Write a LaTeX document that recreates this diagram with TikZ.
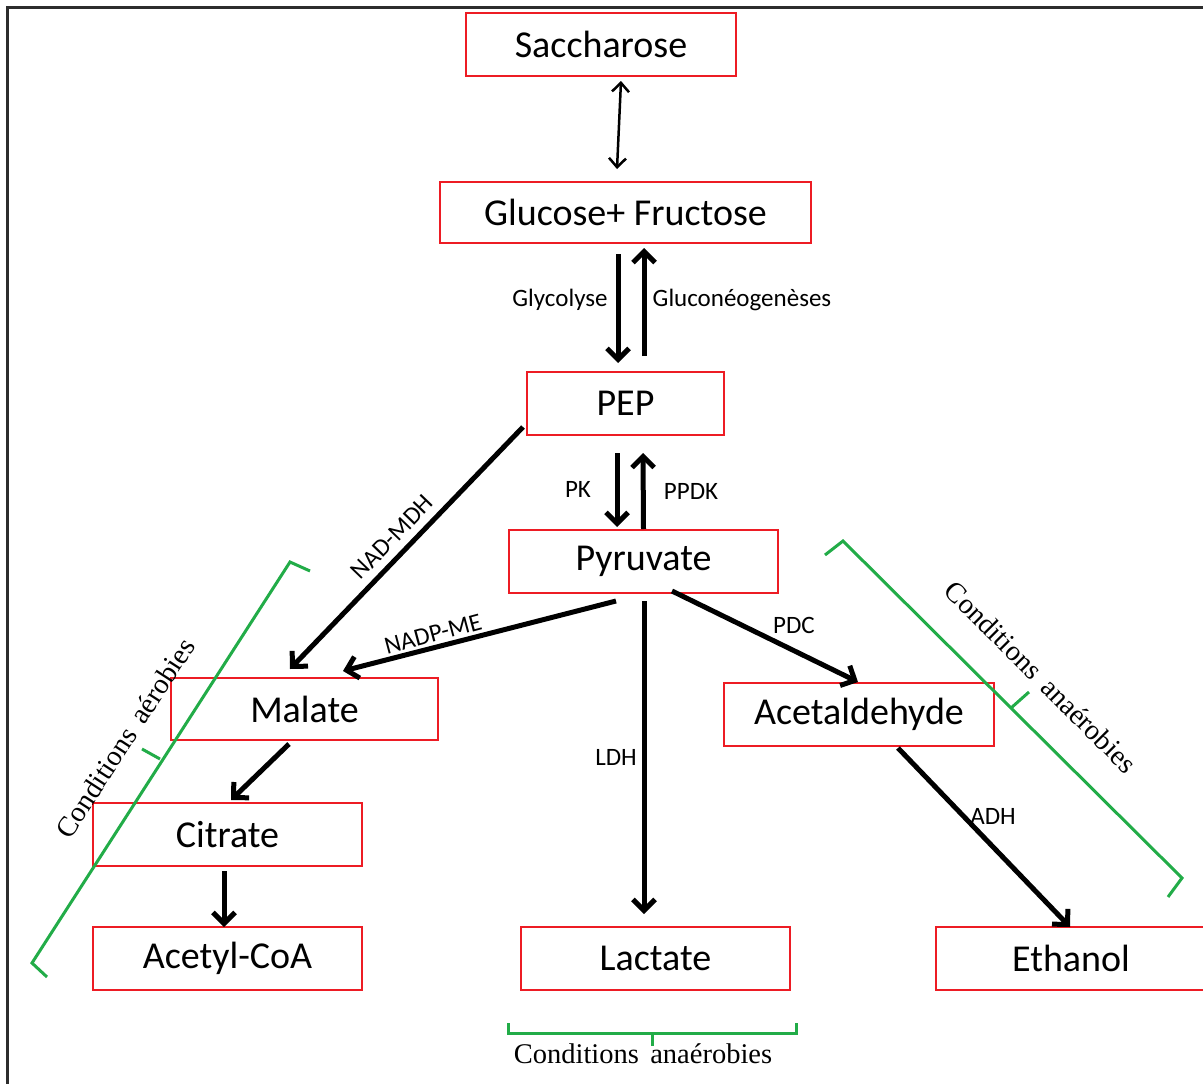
\documentclass[tikz,border=0pt]{standalone}
\usepackage{fontspec}
\setmainfont{Carlito}
\newfontfamily\seriffont{Liberation Serif}
\usetikzlibrary{arrows.meta}
\definecolor{boxred}{RGB}{237,28,36}
\definecolor{brgreen}{RGB}{34,172,72}
\definecolor{framegray}{RGB}{45,45,45}
\tikzset{
  box/.style={draw=boxred, line width=2pt, inner sep=0pt, minimum height=63pt,
    font=\fontsize{38}{40}\selectfont},
  flow/.style={line width=5pt, -{Straight Barb[length=11pt,width=22pt]}},
  biarrow/.style={line width=2.5pt, {Straight Barb[length=9pt,width=17pt]}-{Straight Barb[length=9pt,width=17pt]}},
  lbl/.style={inner sep=0pt, font=\fontsize{25}{27}\selectfont},
  bracket/.style={draw=brgreen, line width=3pt},
  condtext/.style={inner sep=0pt, font=\seriffont\fontsize{28.5}{30}\selectfont}
}
\begin{document}
\begin{tikzpicture}[x=1pt,y=-1pt]
\useasboundingbox (0,0) rectangle (1203,1084);
\clip (0,0) rectangle (1203,1084);
% frame
\draw[framegray, line width=3pt] (7,1090) -- (7,7) -- (1210,7);
% boxes
\node[box, minimum width=270pt] (sacch) at (601,44.5) {Saccharose};
\node[box, minimum width=371pt, minimum height=61pt] (gluc) at (625.5,212.5) {Glucose+ Fructose};
\node[box, minimum width=197pt] (pep) at (625.5,403.5) {PEP};
\node[box, minimum width=269pt] (pyr) at (643.5,561.5) {Pyruvate};
\node[box, minimum width=267pt, minimum height=62pt] (malate) at (304.5,709) {Malate};
\node[box, minimum width=270pt] (acet) at (859,714.5) {Acetaldehyde};
\node[box, minimum width=269pt] (citrate) at (227.5,834.5) {Citrate};
\node[box, minimum width=269pt] (acoa) at (227.5,958.5) {Acetyl-CoA};
\node[box, minimum width=269pt] (lact) at (655.5,958.5) {Lactate};
\node[box, minimum width=270pt] (eth) at (1071,958.5) {Ethanol};
% connectors
\draw[biarrow] ([xshift=20pt,yshift=-4pt]sacch.south) -- ([xshift=-8.5pt,yshift=12pt]gluc.north);
\draw[flow] ([xshift=-7.5pt,yshift=-10pt]gluc.south) -- ([xshift=-7.5pt,yshift=8pt]pep.north);
\draw[flow] ([xshift=18.5pt,yshift=15pt]pep.north) -- ([xshift=18.5pt,yshift=-4pt]gluc.south);
\draw[flow] ([xshift=-8.5pt,yshift=-17pt]pep.south) -- ([xshift=-26.5pt,yshift=2pt]pyr.north);
\draw[flow] ([xshift=0pt,yshift=0pt]pyr.north) -- ([xshift=17.5pt,yshift=-17pt]pep.south);
\draw[flow] ([xshift=-3pt,yshift=9pt]pep.south west) -- ([xshift=-14.5pt,yshift=8pt]malate.north);
\draw[flow] ([xshift=-27.5pt,yshift=-7pt]pyr.south) -- ([xshift=38.5pt,yshift=6pt]malate.north);
\draw[flow] ([xshift=0.5pt,yshift=-7pt]pyr.south) -- ([xshift=-11.5pt,yshift=12pt]lact.north);
\draw[flow] ([xshift=28.5pt,yshift=3pt]pyr.south) -- ([xshift=-1pt,yshift=0pt]acet.north);
\draw[flow] ([xshift=-15.5pt,yshift=-3pt]malate.south) -- ([xshift=3.5pt,yshift=2pt]citrate.north);
\draw[flow] ([xshift=-3.5pt,yshift=-4pt]citrate.south) -- ([xshift=-3.5pt,yshift=-1pt]acoa.north);
\draw[flow] ([xshift=39pt,yshift=-1pt]acet.south) -- ([xshift=-1pt,yshift=-1pt]eth.north);
% enzyme labels
\node[lbl] (lglyc) at (560,300) {Glycolyse};
\node[lbl] (lgluco) at (742,300) {Gluconéogenèses};
\node[lbl] (lpk) at (578,489) {PK};
\node[lbl] (lppdk) at (691,491) {PPDK};
\node[lbl, rotate=46] (lnadmdh) at (392,537) {NAD-MDH};
\node[lbl, rotate=15] (lnadpme) at (433,634) {NADP-ME};
\node[lbl] (lldh) at (616,757) {LDH};
\node[lbl] (lpdc) at (794,625) {PDC};
\node[lbl] (ladh) at (993,816) {ADH};
% brackets
\draw[bracket] (310,571) -- (290,562) -- (32,963) -- (47,977);
\draw[bracket] (160,759) -- (142,749);
\draw[bracket] (825,555) -- (843,541) -- (1182,878) -- (1168,897);
\draw[bracket] (1011,708) -- (1029,692);
\draw[bracket] (508,1023) -- (508,1033) -- (796,1033) -- (796,1023);
\draw[bracket] (652,1033) -- (652,1046);
% condition texts
\node[condtext, rotate=57] (caero) at (125,738) {Conditions\hspace{0.4em}aérobies};
\node[condtext, rotate=-45] (canaer1) at (1041,677) {Conditions\hspace{0.4em}anaérobies};
\node[condtext] (canaer2) at (643,1054) {Conditions\hspace{0.4em}anaérobies};
\end{tikzpicture}
\end{document}
